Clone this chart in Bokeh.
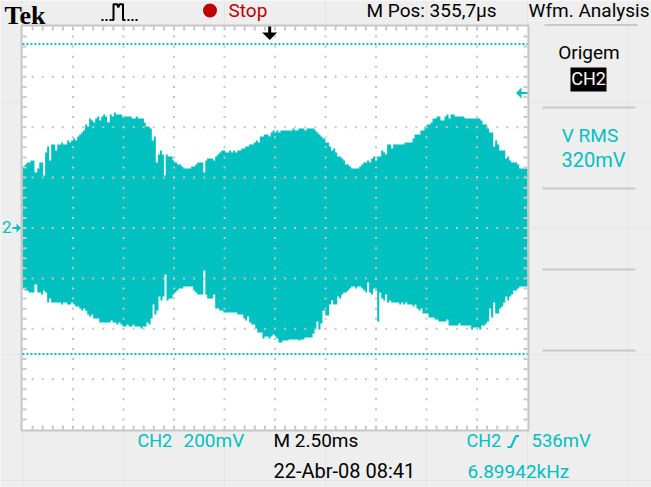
from bokeh.plotting import figure
from bokeh.models import Range1d, Label
from bokeh.embed import file_html
from bokeh.resources import INLINE

# ---------------- data ----------------
T_END = 25.0  # ms, 10 div x 2.5 ms
TOP_T = [0.00, 0.10, 0.20, 0.40, 0.59, 0.73, 0.83, 1.02, 1.12, 1.22, 1.32, 1.42, 1.62, 1.72, 1.92,
         2.01, 2.21, 2.31, 2.41, 2.51, 2.61, 2.71, 2.81, 2.91, 3.00, 3.10, 3.20, 3.30, 3.40, 3.50,
         3.60, 3.70, 3.80, 3.90, 4.00, 4.09, 4.19, 4.32, 4.42, 4.52, 4.62, 4.92, 5.41, 5.61, 5.71,
         6.01, 6.10, 6.30, 6.40, 6.50, 6.60, 6.70, 6.80, 6.90, 7.00, 7.09, 7.19, 7.43, 7.52, 7.66,
         7.86, 7.96, 8.35, 8.55, 8.65, 8.95, 9.05, 9.14, 9.44, 9.54, 9.64, 9.74, 9.84, 10.04, 10.23,
         10.33, 10.43, 10.53, 10.63, 10.83, 11.03, 11.22, 11.45, 11.55, 11.65, 11.75, 11.95, 12.18,
         12.28, 12.38, 12.48, 12.57, 12.67, 12.77, 13.37, 13.47, 13.66, 13.96, 14.06, 14.46, 14.55,
         14.65, 14.75, 14.85, 14.99, 15.18, 15.28, 15.38, 15.48, 15.58, 15.78, 15.88, 15.97, 16.17,
         16.27, 16.67, 16.77, 16.87, 17.06, 17.16, 17.26, 17.36, 17.46, 17.56, 17.76, 17.86, 17.95,
         18.05, 18.25, 18.35, 18.91, 19.31, 19.41, 19.70, 19.90, 20.00, 20.20, 20.30, 20.50, 20.69,
         20.89, 20.99, 21.09, 21.19, 21.39, 21.88, 22.67, 22.77, 23.00, 23.10, 23.30, 23.40, 23.50,
         23.60, 23.90, 24.00, 24.09, 24.19, 24.49, 24.59]
TOP_MV = [244, 252, 260, 268, 220, 236, 260, 208, 300, 323, 268, 331, 308, 331, 339,
          331, 347, 339, 347, 355, 347, 363, 371, 379, 387, 411, 403, 435, 427, 419,
          435, 442, 427, 442, 450, 442, 419, 450, 442, 458, 450, 442, 435, 442, 435,
          419, 403, 395, 347, 363, 260, 292, 308, 292, 208, 292, 284, 268, 260, 252,
          244, 236, 244, 252, 260, 220, 268, 276, 268, 284, 292, 300, 308, 300, 308,
          300, 308, 300, 308, 315, 323, 331, 339, 347, 339, 363, 371, 363,
          379, 387, 379, 387, 379, 387, 395, 387, 395, 387, 395, 387, 379,
          371, 363, 355, 339, 323, 308, 315, 300, 284, 276, 268, 252, 244,
          236, 244, 252, 260, 268, 260, 276, 284, 268, 284, 308, 300, 292,
          331, 315, 331, 339, 355, 371, 387, 403, 411, 419, 435, 442, 427,
          442, 450, 435, 450, 442, 435, 427, 411, 395, 379, 323, 347, 331,
          308, 276, 284, 268, 260, 252, 236]
BOT_T = [0.00, 0.10, 0.30, 0.59, 0.73, 0.92, 1.02, 1.12, 1.22, 1.32, 1.42, 1.92, 2.01, 2.21, 2.41,
         2.51, 2.61, 2.81, 2.91, 3.00, 3.10, 3.20, 3.30, 3.40, 3.50, 3.80, 4.36, 4.46, 4.65, 4.75,
         4.85, 4.95, 5.15, 5.25, 5.45, 5.54, 5.84, 5.94, 6.14, 6.24, 6.34, 6.44, 6.53, 6.63, 6.73,
         6.83, 6.93, 7.03, 7.13, 7.23, 7.43, 7.52, 7.62, 7.72, 7.96, 8.45, 8.55, 8.65, 8.95, 9.05,
         9.14, 9.44, 9.54, 9.74, 9.94, 10.63, 10.93, 11.03, 11.12, 11.22, 11.32, 11.52, 11.62, 11.88,
         11.98, 12.18, 12.28, 12.38, 12.48, 12.57, 12.67, 12.87, 13.17, 13.66, 13.76, 13.96, 14.36,
         14.46, 14.55, 14.65, 14.75, 14.85, 14.99, 15.18, 15.28, 15.38, 15.58, 15.68, 15.78, 15.88,
         16.07, 16.17, 16.27, 16.47, 16.57, 16.77, 16.87, 16.97, 17.06, 17.16, 17.26, 17.36, 17.46,
         17.56, 17.66, 17.76, 17.86, 17.95, 18.05, 18.15, 18.25, 18.65, 18.75, 18.85, 18.95, 19.05,
         19.31, 19.41, 19.50, 19.60, 19.70, 19.80, 20.10, 20.40, 20.59, 20.99, 21.09, 21.58, 21.68,
         22.21, 22.31, 22.61, 22.71, 22.91, 23.00, 23.10, 23.20, 23.30, 23.40, 23.60, 23.70, 23.80,
         23.90, 24.00, 24.09, 24.19, 24.29, 24.49, 24.59]
BOT_MV = [-240, -248, -256, -224, -256, -264, -248, -256, -296, -280, -296, -304, -296, -304, -296,
          -304, -312, -319, -327, -319, -327, -343, -351, -343, -359, -375, -367, -375, -383, -375,
          -383, -391, -383, -391, -383, -391, -399, -391, -375, -383, -359, -304, -343, -327, -272,
          -288, -272, -185, -288, -280, -264, -256, -248, -240, -232, -248, -256, -264, -169, -264,
          -280, -264, -319, -327, -335, -343, -359, -367, -351, -375, -383, -399, -415, -438,
          -431, -438, -431, -423, -431, -438, -454, -446, -442, -446, -442, -435, -419,
          -403, -371, -403, -379, -327, -347, -304, -288, -304, -272, -280, -264, -256,
          -248, -240, -232, -240, -232, -240, -248, -256, -216, -256, -264, -240, -248,
          -371, -256, -280, -288, -264, -296, -288, -296, -304, -296, -304, -296, -304,
          -312, -304, -319, -327, -319, -339, -355, -363, -371, -363, -387, -379, -387,
          -403, -395, -403, -387, -379, -371, -319, -355, -296, -339, -319, -312, -296,
          -272, -288, -272, -264, -248, -240, -232]
CURSOR_MV = [730, -500]
TRIG_LEVEL_MV = 536
MS_PER_DIV = 2.5
MV_PER_DIV = 200

TOP_TEXTS = ["Stop", "M Pos: 355,7\u00b5s", "Wfm. Analysis"]
PANEL_TEXTS = ["Origem", "CH2", "V RMS", "320mV"]
BOTTOM_TEXTS = ["CH2", "200mV", "M 2.50ms", "CH2", "536mV", "22-Abr-08 08:41", "6.89942kHz"]

# ---------------- layout helpers ----------------
W, H = 651, 487
PX_PER_MS = 50.5 / MS_PER_DIV
PX_PER_MV = 50.4 / MV_PER_DIV
REF_X0, REF_Y0 = 22.0, 227.5


def X(px):
    return (px - REF_X0) / PX_PER_MS


def Y(py):
    return (REF_Y0 - py) / PX_PER_MV


TEAL = "#00C0C0"
GRAY = "#C8C8C8"
DOT = "#C4C4C4"
BG = "#EEEEEE"
RED = "#C00000"
FONT = "Roboto"

p = figure(width=W, height=H, output_backend="svg", toolbar_location=None,
           x_range=Range1d(X(0), X(W)), y_range=Range1d(Y(H), Y(0)),
           x_axis_location=None, y_axis_location=None, min_border=0)
p.outline_line_color = None
p.background_fill_color = BG
p.border_fill_color = BG

V_TOP = 4 * MV_PER_DIV
V_BOT = -4 * MV_PER_DIV

# plot area
p.quad(left=0, right=T_END, top=V_TOP, bottom=V_BOT, fill_color="white", line_color=None)

# waveform envelope (step polygon)
def steps(ts, vs, t_end):
    xs, ys = [], []
    for i in range(len(ts)):
        t1 = ts[i + 1] if i + 1 < len(ts) else t_end
        xs += [ts[i], t1]
        ys += [vs[i], vs[i]]
    return xs, ys

tx, ty = steps(TOP_T, TOP_MV, T_END)
bx, by = steps(BOT_T, BOT_MV, T_END)
p.patch(tx + bx[::-1], ty + by[::-1], fill_color=TEAL, line_color=None)

# graticule dots
minor_t = MS_PER_DIV / 5
minor_v = MV_PER_DIV / 5
gx, gy = [], []
for k in range(1, 10):
    for j in range(1, 40):
        gx.append(k * MS_PER_DIV)
        gy.append(V_BOT + j * minor_v)
for k in range(-3, 4):
    for j in range(1, 50):
        gx.append(j * minor_t)
        gy.append(k * MV_PER_DIV)
p.scatter(gx, gy, marker="square", size=2, fill_color=DOT, line_color=None)

# border ticks
tk_t = 4 / PX_PER_MS
tk_v = 4 / PX_PER_MV
sx0, sy0, sx1, sy1 = [], [], [], []
for j in range(1, 50):
    t = j * minor_t
    sx0 += [t, t]; sx1 += [t, t]
    sy0 += [V_TOP, V_BOT]; sy1 += [V_TOP - tk_v, V_BOT + tk_v]
for j in range(1, 40):
    v = V_BOT + j * minor_v
    sx0 += [0, T_END]; sx1 += [tk_t, T_END - tk_t]
    sy0 += [v, v]; sy1 += [v, v]
p.segment(sx0, sy0, sx1, sy1, line_color=GRAY, line_width=2)

# border
p.quad(left=-1 / PX_PER_MS, right=T_END + 1 / PX_PER_MS, top=V_TOP + 1 / PX_PER_MV,
       bottom=V_BOT - 1 / PX_PER_MV, fill_color=None, line_color=GRAY, line_width=2)

# cursors
for c in CURSOR_MV:
    p.line([0, T_END], [c, c], line_color=TEAL, line_width=2, line_dash="2 2")

# trigger position arrow (top)
ax = 269.2
p.patch([X(ax - 1.5), X(ax + 1.5), X(ax + 1.5), X(ax + 7.5), X(ax), X(ax - 7.5), X(ax - 1.5)],
        [Y(26), Y(26), Y(32), Y(32), Y(39.5), Y(32), Y(32)], fill_color="black", line_color=None)

# trigger level arrow (right)
ly = TRIG_LEVEL_MV
dv = 1 / PX_PER_MV
p.patch([X(515.5), X(521), X(521), X(527), X(527), X(521), X(521)],
        [ly, ly + 5.5 * dv, ly + dv, ly + dv, ly - dv, ly - dv, ly - 5.5 * dv],
        fill_color=TEAL, line_color=None)

# ground marker (left)
p.patch([X(12), X(16), X(16), X(20.5), X(16), X(16), X(12)],
        [Y(226.5), Y(226.5), Y(223), Y(227.5), Y(232), Y(228.5), Y(228.5)],
        fill_color=TEAL, line_color=None)


def lab(x, y, text, color="black", size=19, align="left", font=FONT, style="normal", fix=0.42):
    # y is the reference baseline; the svg text lands ~0.42 em lower, so lift it
    p.add_layout(Label(x=X(x), y=Y(y - fix * size), text=text, text_color=color, text_font=font,
                       text_font_size=f"{size}px", text_align=align, text_baseline="alphabetic",
                       text_font_style=style))


lab(1.5, 234, "2", color=TEAL, size=17)

# top bar
lab(4, 21, "Tek", size=26, font="Liberation Serif", style="bold", fix=0.24)
p.line([X(101), X(112)], [Y(19.5), Y(19.5)], line_color="black", line_width=2, line_dash="2 2")
p.line([X(123), X(139)], [Y(19.5), Y(19.5)], line_color="black", line_width=2, line_dash="2 2")
p.line([X(111), X(113), X(113), X(116.5), X(117.8), X(119), X(122.5), X(122.5), X(124)],
       [Y(19.5), Y(19.5), Y(3.7), Y(3.7), Y(7), Y(3.7), Y(3.7), Y(19.5), Y(19.5)],
       line_color="black", line_width=2)
p.scatter([X(209.5)], [Y(10)], marker="circle", size=14, fill_color=RED, line_color=None)
lab(228, 17.5, TOP_TEXTS[0], color=RED)
lab(366, 18, TOP_TEXTS[1])
lab(649, 18, TOP_TEXTS[2], align="right")

# right panel
p.line([X(544), X(637)], [Y(24.5), Y(24.5)], line_color=GRAY, line_width=2)
for yy in [107, 188, 269, 350]:
    p.line([X(542), X(635)], [Y(yy), Y(yy)], line_color=GRAY, line_width=2)
lab(588.5, 60, PANEL_TEXTS[0], align="center")
p.quad(left=X(570), right=X(606), top=Y(67), bottom=Y(91), fill_color="black", line_color=None)
lab(588, 86, PANEL_TEXTS[1], color="white", size=18, align="center")
lab(589.5, 143, PANEL_TEXTS[2], color=TEAL, align="center")
lab(593, 168, PANEL_TEXTS[3], color=TEAL, size=20, align="center")

# bottom rows
lab(137, 448, BOTTOM_TEXTS[0], color=TEAL, size=18)
lab(183, 448, BOTTOM_TEXTS[1], color=TEAL)
lab(273, 448, BOTTOM_TEXTS[2])
lab(466, 448, BOTTOM_TEXTS[3], color=TEAL, size=18)
p.line([X(507), X(510.5), X(515.5), X(518.5)], [Y(446.5), Y(446.5), Y(435.5), Y(435.5)],
       line_color=TEAL, line_width=2)
lab(531, 448, BOTTOM_TEXTS[4], color=TEAL, size=18.5)
lab(273, 478.5, BOTTOM_TEXTS[5], size=20)
lab(467, 478.5, BOTTOM_TEXTS[6], color=TEAL)

open("out.html", "w").write(file_html(p, INLINE))
